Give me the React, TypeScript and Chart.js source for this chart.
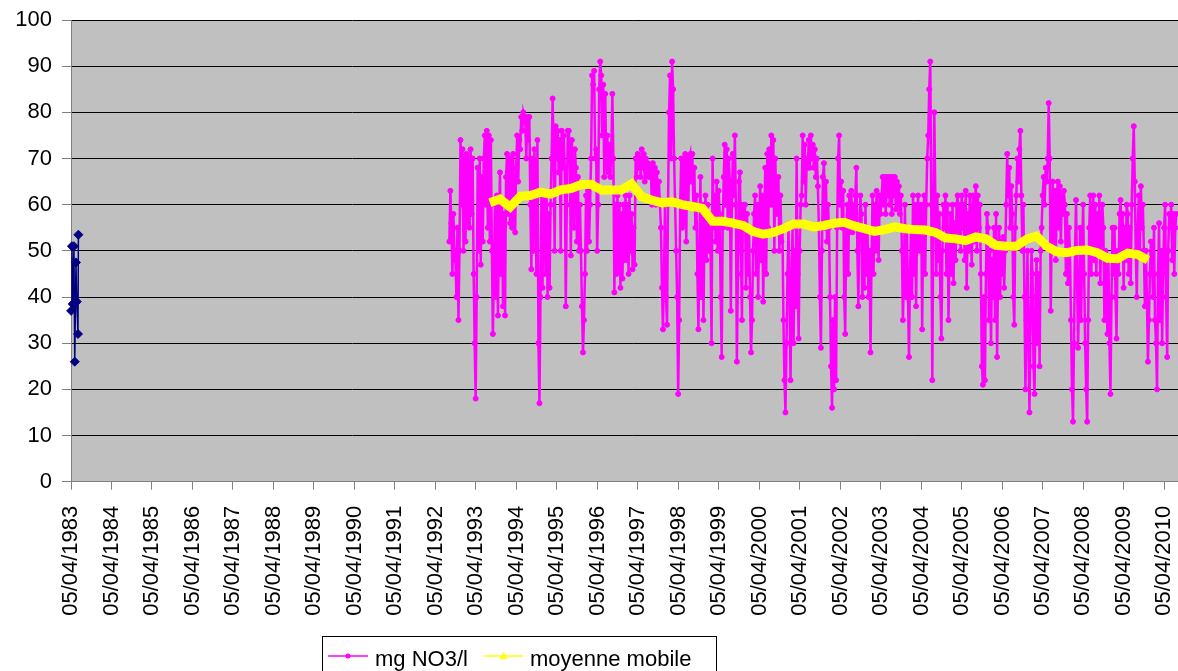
import React, { useEffect, useRef } from 'react';
import { Chart, registerables } from 'chart.js';

Chart.register(...registerables);

// X axis: decimal years; ticks on 05/04 of each year
const TICK_YEARS = [1983, 1984, 1985, 1986, 1987, 1988, 1989, 1990, 1991, 1992, 1993, 1994, 1995, 1996, 1997, 1998, 1999, 2000, 2001, 2002, 2003, 2004, 2005, 2006, 2007, 2008, 2009, 2010];
const TICK_LABELS = TICK_YEARS.map((y) => '05/04/' + y);
const APRIL5 = 0.2575;
const X_MIN = 1983 + APRIL5;
const X_MAX = 2011.0;

// Early series (1983)
const BLUE_DATES = [1983.26, 1983.28, 1983.30, 1983.33, 1983.35, 1983.38, 1983.40, 1983.43, 1983.44];
const BLUE_VALUES = [37, 51, 38.5, 51, 26, 47.5, 39, 32, 53.5];

// mg NO3/l, read every 0.025 year from 1992.60
const MAG_START = 1992.6;
const MAG_STEP = 0.025;
const MAG_VALUES = [
  // 1992.6 - 1998.5
  52, 63, 56, 45, 58, 50, 48, 40, 55, 35, 50, 74, 60, 72, 50, 70, 52, 71, 56, 70, 55, 72, 58,
  70, 45, 30, 18, 40, 68, 50, 70, 47, 66, 52, 70, 75, 60, 76, 55, 75, 52, 74, 50, 32, 45,
  60, 40, 62, 36, 55, 67, 45, 60, 38, 58, 36, 66, 71, 58, 70, 56, 70, 55, 71, 60, 54,
  68, 75, 65, 74, 72, 79, 76, 80, 79, 78, 70, 79, 74, 79, 60, 46, 70, 50, 72,
  65, 45, 74, 30, 17, 40, 62, 42, 60, 61, 45, 62, 40, 58, 42, 60, 70, 83, 72, 50, 77,
  70, 76, 67, 74, 50, 76, 68, 75, 68, 38, 60, 76, 76, 70, 49, 74, 65, 55, 72,
  68, 52, 66, 50, 60, 50, 38, 28, 35, 45, 62, 50, 63, 52, 60, 70, 88, 86, 89, 70,
  72, 50, 60, 85, 91, 88, 75, 86, 66, 84, 68, 75, 67, 73, 66, 72, 84, 70, 41, 60, 45,
  62, 46, 60, 42, 58, 44, 60, 48, 62, 48, 60, 45, 62, 50, 58, 46, 55, 47,
  70, 66, 71, 68, 70, 66, 72, 68, 71, 65, 70, 67, 69, 66, 68,
  68, 60, 69, 62, 68, 60, 67, 61, 65, 60, 55, 42, 33, 45, 60, 40, 34,
  60, 80, 88, 70, 91, 85, 70, 60, 50, 40, 19, 35, 60, 70, 55, 70, 56, 71, 52, 70, 60,
  // 1998.5 - 2004.5
  70, 71, 65, 71, 60, 68, 55, 62, 45, 33, 50, 66, 40, 60, 35, 55, 62, 48, 60, 50, 58,
  50, 30, 70, 55, 62, 52, 65, 50, 63, 58, 40, 27, 55, 66, 73, 60, 72, 55, 70,
  65, 37, 60, 71, 62, 75, 60, 26, 45, 65, 67, 50, 35, 60, 55, 60, 42, 58, 45, 55,
  40, 28, 35, 50, 58, 62, 45, 60, 40, 55, 64, 48, 62, 39, 55, 68, 45, 71, 55, 72, 60,
  75, 60, 74, 50, 70, 58, 62, 66, 50, 62, 52, 55, 35, 22, 15, 30, 45, 55,
  40, 22, 45, 55, 30, 50, 38, 70, 45, 31, 50, 60, 62, 75, 65, 73, 60, 70, 68,
  74, 68, 75, 70, 73, 68, 72, 66, 70, 64, 55, 40, 29, 50, 66, 69, 55, 65, 52, 60, 55,
  40, 25, 16, 35, 20, 40, 22, 55, 70, 75, 60, 65, 55, 63, 40, 32, 55, 60, 45,
  62, 55, 63, 54, 60, 56, 62, 68, 50, 38, 55, 62, 58, 40, 55, 42, 60, 45, 55, 40, 50, 28,
  48, 62, 45, 60, 50, 63, 55, 48, 62, 58, 62, 66, 60, 66, 58, 66, 62, 66,
  60, 66, 58, 66, 62, 66, 59, 65, 60, 64, 58, 62, 50, 35, 45, 60, 40, 55,
  40, 27, 45, 55, 40, 62, 45, 60, 38, 55, 62, 50, 58, 60, 33, 55, 62, 45, 60, 70,
  75, 85, 91, 60, 22, 55,
  // 2004.6 - 2010.5
  80, 62, 45, 62, 48, 58, 40, 31, 50, 60, 55, 62, 45, 60, 35, 48, 58, 45, 60, 43, 56, 48, 60,
  62, 52, 60, 50, 62, 55, 60, 48, 63, 42, 58, 50, 62, 55, 47, 62, 52, 60, 64, 50, 62, 55, 60,
  45, 25, 21, 40, 22, 45, 58, 55, 35, 50, 30, 48, 40, 55, 35, 58, 27, 45, 55, 40,
  52, 45, 53, 42, 50, 60, 71, 62, 68, 55, 64, 58, 40, 34, 55, 62, 70, 65, 72, 76, 62, 50, 60,
  40, 20, 35, 50, 30, 15, 35, 50, 45, 25, 19, 40, 48, 30, 45, 25, 50, 55,
  62, 66, 60, 68, 65, 70, 82, 70, 37, 55, 65, 50, 63, 48, 62, 65, 55, 64, 52, 62, 58, 63,
  60, 45, 58, 43, 55, 50, 35, 20, 13, 30, 50, 61, 45, 29, 40, 55, 35, 50,
  60, 45, 30, 20, 13, 35, 55, 62, 45, 55, 62, 48, 60, 45, 58, 50, 62, 43, 55, 60,
  55, 35, 50, 42, 32, 48, 30, 19, 40, 55, 45, 55, 40, 31, 50, 45, 58,
  61, 50, 58, 42, 55, 48, 60, 58, 45, 55, 43, 60, 70, 77, 65, 50, 40,
  55, 62, 50, 64, 55, 60, 50, 38, 50, 40, 26, 35, 45, 52, 50, 40, 55, 35, 30, 20,
  45, 56, 35, 50, 30, 45, 55, 60, 40, 27, 50, 58, 55, 60, 48, 58, 45, 55, 58,
];

// moyenne mobile, read every 0.25 year from 1993.60
const AVG_START = 1993.6;
const AVG_STEP = 0.25;
const AVG_VALUES = [
  60.4, 61.2, 59.5, 61.8, 62.0, 62.7, 62.3, 63.2, 63.5, 64.3,
  64.4, 63.2, 63.2, 63.2, 64.5, 61.7, 61.0, 60.4, 60.6, 60.0,
  59.6, 59.2, 56.4, 56.4, 56.0, 55.5, 54.2, 53.6, 54.0, 54.8,
  55.8, 55.8, 55.2, 55.5, 56.0, 56.2, 55.4, 54.8, 54.2, 54.6,
  55.2, 54.8, 54.6, 54.5, 54.0, 52.8, 52.6, 52.2, 53.0, 52.6,
  51.2, 51.0, 51.0, 52.5, 53.2, 51.0, 49.8, 49.6, 50.1, 50.2,
  49.6, 48.4, 48.3, 49.5, 49.2, 48.0,
];

const FONT_FAMILY = '"Liberation Sans", Arial, sans-serif';
const FONT_SIZE = 22;

const bgPlugin = {
  id: 'plotBg',
  beforeDraw(chart: any) {
    const { ctx, chartArea } = chart;
    ctx.save();
    ctx.fillStyle = '#C0C0C0';
    ctx.fillRect(chartArea.left, chartArea.top, chartArea.right - chartArea.left, chartArea.bottom - chartArea.top);
    ctx.restore();
  },
};

const legendPlugin = {
  id: 'excelLegend',
  afterDraw(chart: any) {
    const ctx = chart.ctx;
    const dsMag = chart.data.datasets[1];
    const dsAvg = chart.data.datasets[0];
    ctx.save();
    ctx.fillStyle = '#FFFFFF';
    ctx.strokeStyle = '#000000';
    ctx.lineWidth = 1;
    ctx.fillRect(322.5, 636.5, 394, 60);
    ctx.strokeRect(322.5, 636.5, 394, 60);
    // magenta entry
    ctx.strokeStyle = '#FF00FF';
    ctx.lineWidth = 1.5;
    ctx.beginPath();
    ctx.moveTo(328, 656);
    ctx.lineTo(368, 656);
    ctx.stroke();
    ctx.fillStyle = '#FF00FF';
    ctx.beginPath();
    ctx.arc(348, 656, 2.5, 0, Math.PI * 2);
    ctx.fill();
    // yellow entry
    ctx.strokeStyle = '#FFFF00';
    ctx.lineWidth = 1.5;
    ctx.beginPath();
    ctx.moveTo(484, 656);
    ctx.lineTo(523, 656);
    ctx.stroke();
    ctx.fillStyle = '#FFFF00';
    ctx.beginPath();
    ctx.moveTo(503.5, 652);
    ctx.lineTo(507.5, 659);
    ctx.lineTo(499.5, 659);
    ctx.closePath();
    ctx.fill();
    // texts
    ctx.fillStyle = '#000000';
    ctx.font = FONT_SIZE + 'px ' + FONT_FAMILY;
    ctx.textBaseline = 'alphabetic';
    ctx.textAlign = 'left';
    ctx.fillText(dsMag.label, 375, 666);
    ctx.fillText(dsAvg.label, 530, 666);
    ctx.restore();
  },
};

export default function App() {
  const ref = useRef<HTMLCanvasElement>(null);

  useEffect(() => {
    const canvas = ref.current;
    if (!canvas) return;
    const magenta = MAG_VALUES.map((v, i) => ({ x: MAG_START + i * MAG_STEP, y: v }));
    const avg = AVG_VALUES.map((v, i) => ({ x: AVG_START + i * AVG_STEP, y: v }));
    const blue = BLUE_DATES.map((d, i) => ({ x: d, y: BLUE_VALUES[i] }));
    const tickFont = { family: FONT_FAMILY, size: FONT_SIZE };

    const chart = new Chart(canvas, {
      type: 'line',
      data: {
        datasets: [
          {
            label: 'moyenne mobile',
            data: avg,
            borderColor: '#FFFF00',
            backgroundColor: '#FFFF00',
            borderWidth: 9,
            pointRadius: 0,
            tension: 0,
            order: 0,
          },
          {
            label: 'mg NO3/l',
            data: magenta,
            borderColor: '#FF00FF',
            backgroundColor: '#FF00FF',
            borderWidth: 2.5,
            pointRadius: 2.5,
            pointBorderWidth: 1,
            pointBackgroundColor: '#FF00FF',
            pointBorderColor: '#FF00FF',
            tension: 0,
            order: 1,
          },
          {
            label: 'série 1983',
            data: blue,
            borderColor: '#000080',
            backgroundColor: '#000080',
            borderWidth: 1.5,
            pointStyle: 'rectRot',
            pointRadius: 4.5,
            pointBorderWidth: 1,
            tension: 0,
            order: 2,
            clip: false,
          },
        ],
      },
      options: {
        responsive: false,
        animation: false,
        events: [],
        layout: { padding: { top: 20, right: 4, left: 0, bottom: 0 } },
        plugins: {
          legend: { display: false },
          tooltip: { enabled: false },
        },
        scales: {
          x: {
            type: 'linear',
            min: X_MIN,
            max: X_MAX,
            afterBuildTicks: (s: any) => {
              s.ticks = TICK_YEARS.map((y) => ({ value: y + APRIL5 }));
            },
            afterFit: (s: any) => {
              s.height = 189.3;
              s.paddingLeft = 0;
              s.paddingRight = 0;
              s.paddingTop = 0;
              s.paddingBottom = 0;
            },
            grid: { drawOnChartArea: false, tickLength: 8, color: '#808080', tickColor: '#808080' },
            border: { display: true, color: '#808080', width: 1 },
            ticks: {
              autoSkip: false,
              minRotation: 90,
              maxRotation: 90,
              padding: 16,
              color: '#000000',
              font: tickFont,
              callback: (_v: any, i: number) => TICK_LABELS[i],
            },
          },
          y: {
            min: 0,
            max: 100,
            afterFit: (s: any) => {
              s.width = 71;
              s.paddingLeft = 0;
              s.paddingRight = 0;
              s.paddingTop = 0;
              s.paddingBottom = 0;
            },
            grid: { color: '#000000', tickLength: 9, tickColor: '#808080' },
            border: { display: true, color: '#808080', width: 1 },
            ticks: { stepSize: 10, padding: 10, color: '#000000', font: tickFont },
          },
        },
      },
      plugins: [bgPlugin, legendPlugin],
    } as any);

    return () => chart.destroy();
  }, []);

  return (
    <div style={{ position: 'fixed', left: 0, top: 0, width: 1178, height: 671, overflow: 'hidden', background: '#FFFFFF' }}>
      <canvas ref={ref} width={1200} height={671} style={{ width: 1200, height: 671, display: 'block' }} />
    </div>
  );
}
